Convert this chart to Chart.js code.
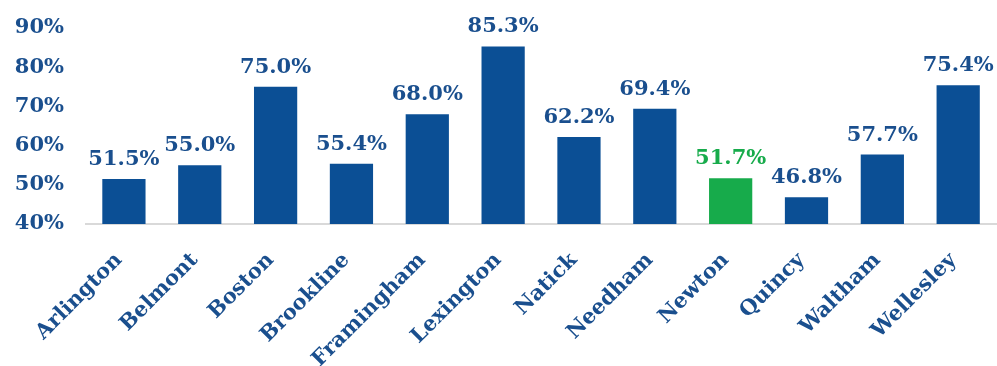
<!DOCTYPE html>
<html>
<head>
<meta charset="utf-8">
<script src="https://cdn.jsdelivr.net/npm/chart.js@4/dist/chart.umd.min.js"></script>
<style>
    html, body { margin: 0; padding: 0; background: #fff; overflow: hidden; }
    #wrap { width: 1000px; height: 366px; }
</style>
</head>
<body>
<div id="wrap"><canvas id="chart" width="1000" height="366"></canvas></div>
<script>
// 지역 목록
const towns = ['Arlington', 'Belmont', 'Boston', 'Brookline', 'Framingham', 'Lexington',
    'Natick', 'Needham', 'Newton', 'Quincy', 'Waltham', 'Wellesley'];

// 비율 값 (%)
const rates = [51.5, 55.0, 75.0, 55.4, 68.0, 85.3, 62.2, 69.4, 51.7, 46.8, 57.7, 75.4];

// 강조할 지역
const highlightTown = 'Newton';

// 눈금 범위
const yMin = 40;
const yMax = 90;
const yStep = 10;

const BLUE = '#0b4f95';
const GREEN = '#17ab4b';
const TEXT_BLUE = '#1a4f8e';
const FONT = '"DejaVu Serif", Georgia, serif';

// 막대 위 값 표시
const valueLabels = {
    id: 'valueLabels',
    afterDatasetsDraw(chart) {
        const ctx = chart.ctx;
        const meta = chart.getDatasetMeta(0);
        ctx.save();
        ctx.font = `bold 21px ${FONT}`;
        ctx.textAlign = 'center';
        ctx.textBaseline = 'alphabetic';
        meta.data.forEach((bar, i) => {
            ctx.fillStyle = towns[i] === highlightTown ? GREEN : TEXT_BLUE;
            ctx.fillText(rates[i].toFixed(1) + '%', bar.x, bar.y - 14);
        });
        ctx.restore();
    }
};

function initChart() {
    const ctx = document.getElementById('chart').getContext('2d');

    new Chart(ctx, {
        type: 'bar',
        data: {
            labels: towns,
            datasets: [{
                data: rates,
                backgroundColor: towns.map(t => t === highlightTown ? GREEN : BLUE),
                barPercentage: 0.57,
                categoryPercentage: 1.0
            }]
        },
        options: {
            responsive: false,
            animation: false,
            layout: { padding: { top: 28, right: 0, bottom: 0, left: 0 } },
            plugins: {
                legend: { display: false },
                tooltip: { enabled: false }
            },
            scales: {
                x: {
                    grid: { display: false, drawTicks: false },
                    border: { color: '#d9d9d9', width: 2 },
                    ticks: {
                        color: TEXT_BLUE,
                        font: { family: FONT, size: 21, weight: 'bold' },
                        minRotation: 45,
                        maxRotation: 45,
                        labelOffset: -5,
                        padding: 24
                    },
                    afterFit(scale) { scale.height = 142; }
                },
                y: {
                    min: yMin,
                    max: yMax,
                    grid: { display: false, drawTicks: false },
                    border: { display: false },
                    ticks: {
                        stepSize: yStep,
                        color: TEXT_BLUE,
                        font: { family: FONT, size: 21, weight: 'bold' },
                        padding: 22,
                        callback: v => v + '%'
                    },
                    afterFit(scale) {
                        scale.width = 86;
                        // 눈금 여백이 위쪽 영역을 밀어내지 않도록
                        scale.paddingTop = 0;
                        scale.paddingBottom = 0;
                    }
                }
            }
        },
        plugins: [valueLabels]
    });
}

document.addEventListener('DOMContentLoaded', initChart);
</script>
</body>
</html>
